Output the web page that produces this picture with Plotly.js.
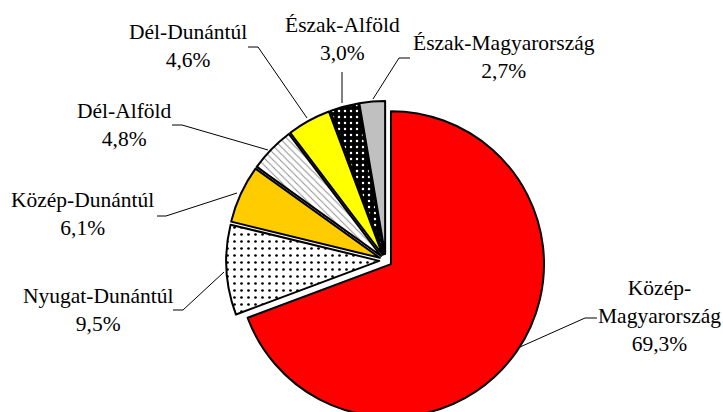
<!DOCTYPE html>
<html>
<head>
<meta charset="utf-8">
<script src="https://cdn.plot.ly/plotly-3.0.1.min.js"></script>
<style>
html,body{margin:0;padding:0;overflow:hidden;background:#fff;}
#chart{width:723px;height:420px;}
</style>
</head>
<body>
<div id="chart"></div>
<script>
// ---- data ----
var regions = ["Közép-Magyarország","Nyugat-Dunántúl","Közép-Dunántúl","Dél-Alföld","Dél-Dunántúl","Észak-Alföld","Észak-Magyarország"];
var regionLabels = ["Közép-<br>Magyarország","Nyugat-Dunántúl","Közép-Dunántúl","Dél-Alföld","Dél-Dunántúl","Észak-Alföld","Észak-Magyarország"];
var shares = [69.3, 9.5, 6.1, 4.8, 4.6, 3.0, 2.7];

// ---- styles ----
var fillColors = ["#FF0000","#FFFFFF","#FFCC00","#FFFFFF","#FFFF00","#000000","#C0C0C0"];
var patShapes  = ["", ".", "", "\\", "", ".", ""];
var patFg      = ["#000000","#000000","#000000","#8A8A8A","#000000","#FFFFFF","#000000"];
var patBg      = ["#FF0000","#FFFFFF","#FFCC00","#FFFFFF","#FFFF00","#000000","#C0C0C0"];
var patSize    = [7, 7, 7, 5, 7, 6, 7];
var patSolid   = [0.12, 0.12, 0.12, 0.18, 0.12, 0.14, 0.12];

var W = 723, H = 420;
function X(px){ return px / W; }
function Y(py){ return 1 - py / H; }

// label anchor positions (pixels) and leader lines
var labelPos = [[659,316],[98,309.5],[82,214.5],[124.5,125],[188,45.5],[342,38.5],[504,57]];
var leaders = [
  [[597,318],[585,318],[520,347]],
  [[173,310],[183,310],[224,272]],
  [[157,216],[166,216],[237,193]],
  [[172,125],[182,125],[268,150]],
  [[248,47],[258,47],[307,118]],
  [[342,72],[342,103]],
  [[410,58],[399,58],[373,99]]
];

var FONT = 'Liberation Serif, Times New Roman, serif';

function fmt(v){ return v.toFixed(1).replace('.', ',') + '%'; }

var annotations = regions.map(function(r,i){
  return {
    xref:'paper', yref:'paper',
    x: X(labelPos[i][0]), y: Y(labelPos[i][1]),
    xanchor:'center', yanchor:'middle', align:'center',
    text: regionLabels[i] + '<br>' + fmt(shares[i]),
    showarrow:false,
    font:{family:FONT, size:21.5, color:'#000'}
  };
});

var shapes = leaders.map(function(pts){
  var d = pts.map(function(p,j){ return (j===0?'M ':'L ') + X(p[0]) + ' ' + Y(p[1]); }).join(' ');
  return {type:'path', xref:'paper', yref:'paper', path:d, line:{color:'#000', width:1}};
});

var trace = {
  type:'pie',
  labels: regions,
  values: shares,
  sort:false,
  direction:'clockwise',
  rotation:0,
  pull: shares.map(function(){ return 0.042; }),
  textinfo:'none',
  hoverinfo:'label+percent',
  marker:{
    colors: fillColors,
    line:{color:'#000', width:2},
    pattern:{shape:patShapes, fgcolor:patFg, bgcolor:patBg, size:patSize, solidity:patSolid}
  },
  domain:{x:[0.3129,0.7540], y:[0, 0.7595]}
};

var layout = {
  width:W, height:H,
  margin:{l:0,r:0,t:0,b:0},
  showlegend:false,
  paper_bgcolor:'#fff',
  plot_bgcolor:'#fff',
  font:{family:FONT},
  annotations: annotations,
  shapes: shapes
};

Plotly.newPlot('chart',[trace],layout,{displayModeBar:false, staticPlot:true});
</script>
</body>
</html>
